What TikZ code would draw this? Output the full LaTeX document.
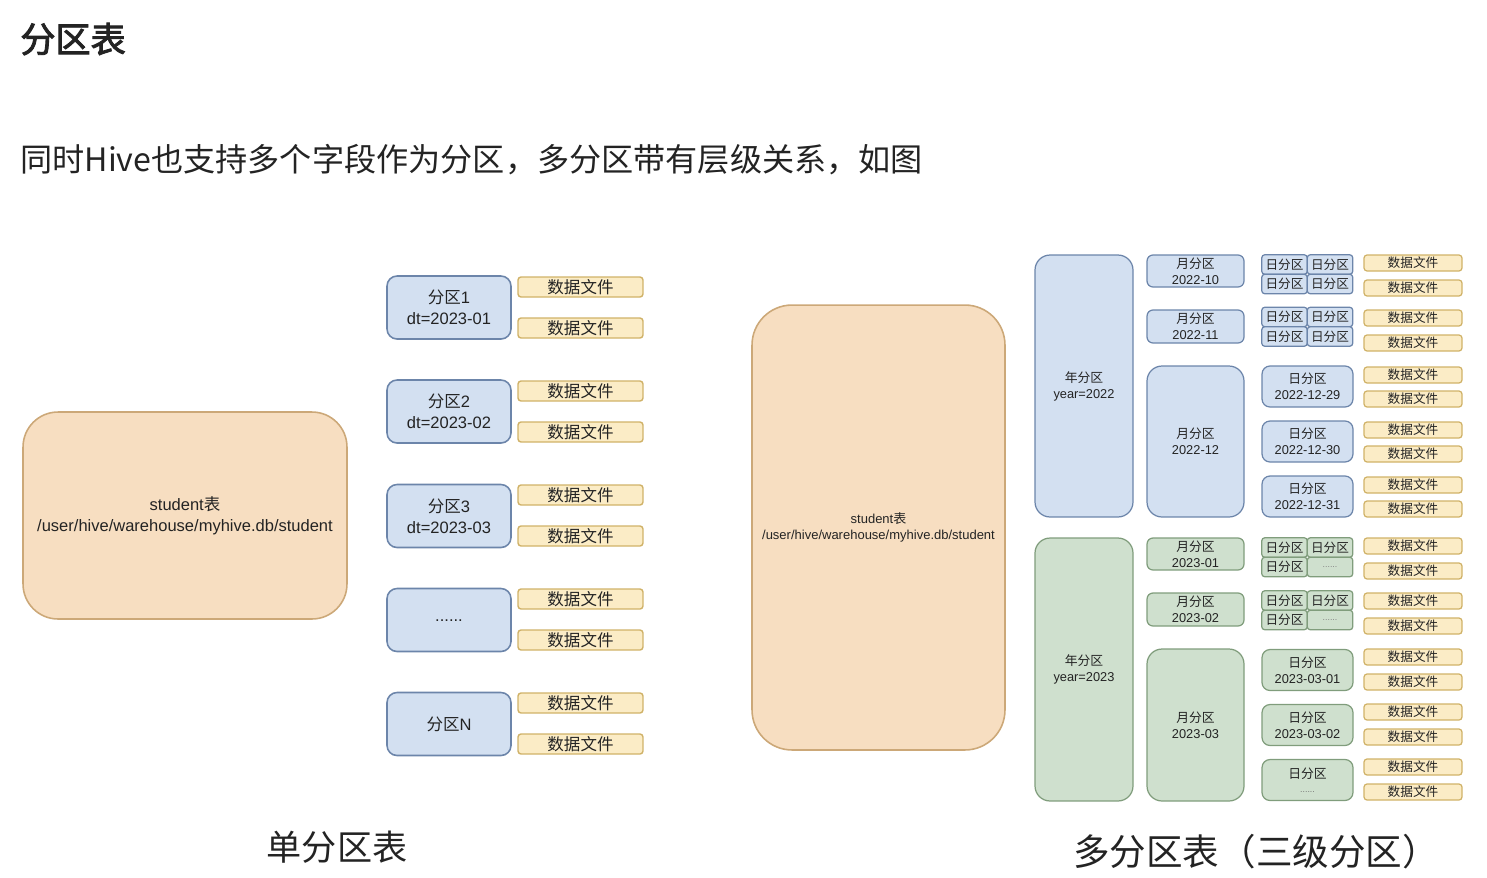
\documentclass[tikz,border=0pt]{standalone}
\usepackage{fontspec}
\setmainfont{Liberation Sans}
\newfontfamily\cjk[AutoFakeBold=2.5]{Noto Sans CJK SC}
\newcommand{\zh}[1]{{\cjk #1}}
\usepackage{xcolor}
\definecolor{durazno}{RGB}{247, 222, 193}
\definecolor{cafe}{RGB}{204, 168, 120}
\definecolor{azul}{RGB}{211, 224, 241}
\definecolor{azulb}{RGB}{108, 133, 170}
\definecolor{verde}{RGB}{207, 224, 206}
\definecolor{verdeb}{RGB}{128, 157, 124}
\definecolor{crema}{RGB}{251, 236, 198}
\definecolor{oro}{RGB}{208, 178, 104}
\definecolor{tinta}{RGB}{35, 35, 35}
\usepackage{tikz}
\usetikzlibrary{positioning}

\begin{document}
\begin{tikzpicture}[
  x=0.02cm, y=-0.02cm,
  caja/.style={rectangle, inner sep=0pt, align=center, text=tinta},
  tabla/.style={caja, draw=cafe, fill=durazno, line width=0.9pt},
  part/.style={caja, draw=azulb, fill=azul, line width=0.9pt, rounded corners=0.2cm,
    minimum width=2.48cm, minimum height=1.26cm, font=\fontsize{9.4}{12}\selectfont},
  arch/.style={caja, draw=oro, fill=crema, line width=0.8pt, rounded corners=0.06cm,
    minimum width=2.5cm, minimum height=0.4cm, font=\cjk\fontsize{9.4}{12}\selectfont},
  chico/.style={caja, line width=0.7pt, font=\fontsize{7.3}{9}\selectfont},
  anio/.style={chico, rounded corners=0.3cm, minimum width=1.96cm},
  mes/.style={chico, minimum width=1.94cm},
  dia/.style={chico, rounded corners=0.16cm, minimum width=1.82cm, minimum height=0.82cm},
  celda/.style={chico, rounded corners=0.06cm, minimum width=0.91cm, minimum height=0.39cm, font=\cjk\fontsize{7.2}{9}\selectfont},
  archr/.style={arch, line width=0.7pt, minimum width=1.96cm, minimum height=0.32cm, font=\cjk\fontsize{7.2}{9}\selectfont},
  a22/.style={draw=azulb, fill=azul},
  a23/.style={draw=verdeb, fill=verde},
  titulo/.style={anchor=west, text=tinta, inner sep=0pt}
]
  \useasboundingbox (0,0) rectangle (1487,877);

  \node[titulo, font=\cjk\bfseries\fontsize{20}{24}\selectfont] (tit) at (20,39) {分区表};
  \node[titulo, font=\cjk\fontsize{18.3}{22}\selectfont] (sub) at (20,160) {同时Hive也支持多个字段作为分区，多分区带有层级关系，如图};

  %单分区表
  \node[tabla, minimum width=6.48cm, minimum height=4.14cm, rounded corners=0.7cm,
    font=\fontsize{9.4}{12}\selectfont] (tab1) at (185,515.5) {student\zh{表}\\/user/hive/warehouse/myhive.db/student};
  \node[part] (p1) at (449,307.5) {\zh{分区}1\\dt=2023-01};
  \node[part] (p2) at (449,411.5) {\zh{分区}2\\dt=2023-02};
  \node[part] (p3) at (449,516) {\zh{分区}3\\dt=2023-03};
  \node[part] (pd) at (449,620) {\raisebox{-2pt}{......}};
  \node[part] (pn) at (449,724) {\zh{分区}N};
  \foreach \y [count=\i] in {287,328,391,432,495,536,599,640,703,744}
    \node[arch] (f\i) at (580.5,\y) {数据文件};

  % 多分区表
  \node[tabla, minimum width=5.06cm, minimum height=8.9cm, rounded corners=0.8cm,
    font=\fontsize{7.4}{9}\selectfont] (tab2) at (878.5,527.5) {student\zh{表}\\/user/hive/warehouse/myhive.db/student};

  \node[anio, a22, minimum height=5.24cm] (y22) at (1084,386) {\zh{年分区}\\year=2022};
  \node[anio, a23, minimum height=5.26cm] (y23) at (1084,669.5) {\zh{年分区}\\year=2023};

  \node[mes, a22, rounded corners=0.12cm, minimum height=0.64cm] (m10) at (1195.5,271) {\zh{月分区}\\2022-10};
  \node[mes, a22, rounded corners=0.12cm, minimum height=0.66cm] (m11) at (1195.5,326.5) {\zh{月分区}\\2022-11};
  \node[mes, a22, rounded corners=0.3cm, minimum height=3.02cm] (m12) at (1195.5,441.5) {\zh{月分区}\\2022-12};
  \node[mes, a23, rounded corners=0.12cm, minimum height=0.64cm] (m01) at (1195.5,554) {\zh{月分区}\\2023-01};
  \node[mes, a23, rounded corners=0.12cm, minimum height=0.66cm] (m02) at (1195.5,609.5) {\zh{月分区}\\2023-02};
  \node[mes, a23, rounded corners=0.3cm, minimum height=3.04cm] (m03) at (1195.5,725) {\zh{月分区}\\2023-03};

  \foreach \y [count=\i] in {264.5,284,317,336.5} {
    \node[celda, a22] (c\i a) at (1284.5,\y) {日分区};
    \node[celda, a22] (c\i b) at (1330,\y) {日分区};
  }
  \node[celda, a23] (c5a) at (1284.5,547.5) {日分区};
  \node[celda, a23] (c5b) at (1330,547.5) {日分区};
  \node[celda, a23] (c6a) at (1284.5,567) {日分区};
  \node[celda, a23, font=\fontsize{5}{6}\selectfont, text=black!50] (c6b) at (1330,567) {......};
  \node[celda, a23] (c7a) at (1284.5,600.5) {日分区};
  \node[celda, a23] (c7b) at (1330,600.5) {日分区};
  \node[celda, a23] (c8a) at (1284.5,620) {日分区};
  \node[celda, a23, font=\fontsize{5}{6}\selectfont, text=black!50] (c8b) at (1330,620) {......};

  \node[dia, a22] (d29) at (1307.5,386.5) {\zh{日分区}\\2022-12-29};
  \node[dia, a22] (d30) at (1307.5,441.5) {\zh{日分区}\\2022-12-30};
  \node[dia, a22] (d31) at (1307.5,496.5) {\zh{日分区}\\2022-12-31};
  \node[dia, a23] (d01) at (1307.5,670) {\zh{日分区}\\2023-03-01};
  \node[dia, a23] (d02) at (1307.5,725) {\zh{日分区}\\2023-03-02};
  \node[dia, a23] (dxx) at (1307.5,780) {\zh{日分区}\\[-1pt]{\fontsize{5}{6}\selectfont\color{black!55}......}};

  \foreach \y [count=\i] in {263,288,318,343,375,399,430,454,485,509,546,571,601,626,657,682,712,737,767,792}
    \node[archr] (g\i) at (1413,\y) {数据文件};

  \node[font=\cjk\fontsize{20}{24}\selectfont, text=tinta] (cap1) at (337,847) {单分区表};
  \node[font=\cjk\fontsize{20.8}{24}\selectfont, text=tinta] (cap2) at (1256,852) {多分区表（三级分区）};
\end{tikzpicture}
\end{document}
